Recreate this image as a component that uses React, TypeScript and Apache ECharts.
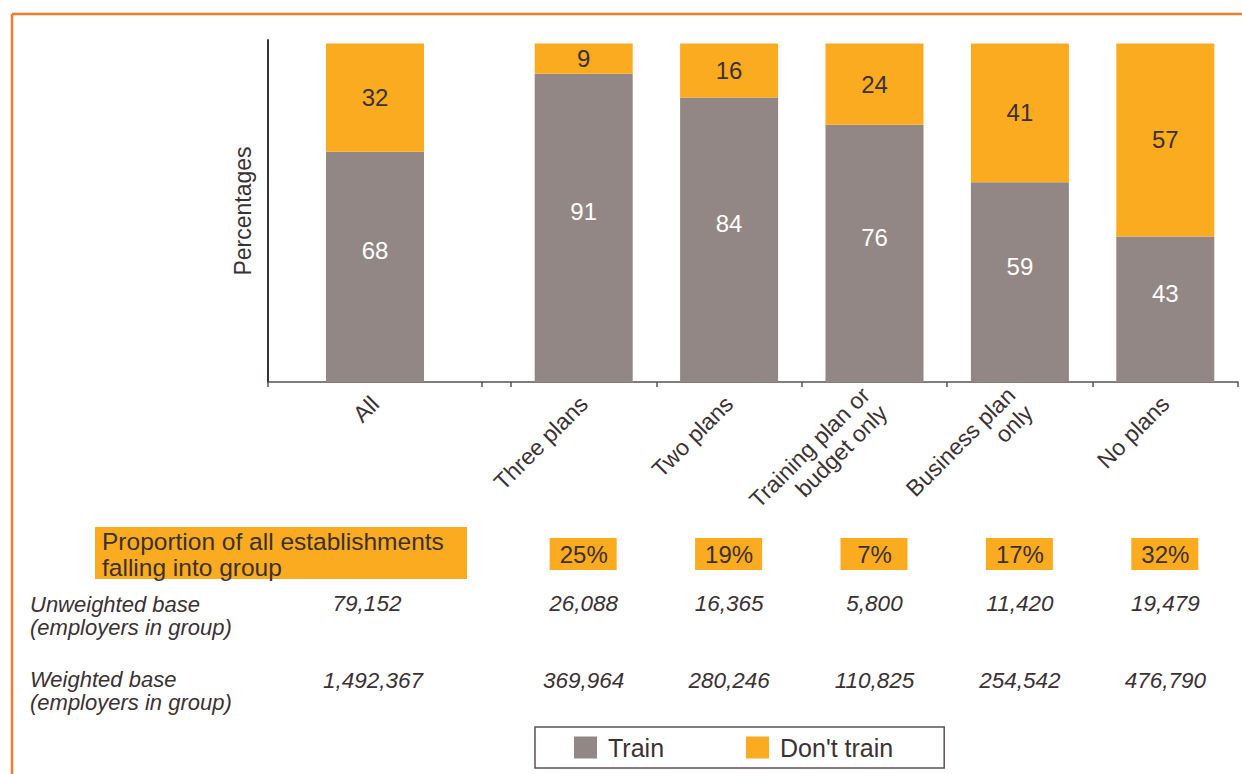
import React, { useEffect, useRef } from "react";
import * as echarts from "echarts";

const allCategory = ["All"];
const groupCategories = [
  "Three plans",
  "Two plans",
  "Training plan or\nbudget only",
  "Business plan\nonly",
  "No plans",
];
const trainAll = [68];
const dontTrainAll = [32];
const trainGroups = [91, 84, 76, 59, 43];
const dontTrainGroups = [9, 16, 24, 41, 57];
const proportionGroups = ["25%", "19%", "7%", "17%", "32%"];
const unweightedAll = "79,152";
const unweightedGroups = ["26,088", "16,365", "5,800", "11,420", "19,479"];
const weightedAll = "1,492,367";
const weightedGroups = ["369,964", "280,246", "110,825", "254,542", "476,790"];
const proportionTitle = "Proportion of all establishments\nfalling into group";
const unweightedTitle = "Unweighted base\n(employers in group)";
const weightedTitle = "Weighted base\n(employers in group)";

export default function App() {
  const ref = useRef<HTMLDivElement>(null);

  useEffect(() => {
    const el = ref.current!;
    const chart = echarts.init(el, null, { renderer: "svg" });
    const FONT = "'Liberation Sans', Arial, Helvetica, sans-serif";
    const DARK = "#3b3133";
    const AXIS = "#5b5052";
    const GRAY = "#928784";
    const ORANGE = "#FBAB1F";
    const BORDER = "#F47B2E";
    const YMAX = 101;
    const BAR_W = 98;

    const trainLabel = {
      show: true,
      position: "inside",
      color: "#ffffff",
      fontSize: 24,
      fontFamily: FONT,
      offset: [0, -16],
    };
    const dontLabel = {
      show: true,
      position: "inside",
      color: DARK,
      fontSize: 24,
      fontFamily: FONT,
    };
    const xAxisCommon = {
      type: "category",
      axisLine: { lineStyle: { color: AXIS, width: 1.5 } },
      axisTick: { show: true, length: 5, lineStyle: { color: AXIS, width: 1.5 } },
      axisLabel: {
        rotate: 45,
        margin: 18,
        fontSize: 23,
        lineHeight: 25,
        color: DARK,
        fontFamily: FONT,
        interval: 0,
      },
    };

    const option: any = {
      animation: false,
      backgroundColor: "#ffffff",
      textStyle: { fontFamily: FONT },
      grid: [
        { left: 268, top: 40, width: 214, height: 342 },
        { left: 511, top: 40, width: 727, height: 342 },
      ],
      xAxis: [
        { ...xAxisCommon, gridIndex: 0, data: allCategory },
        { ...xAxisCommon, gridIndex: 1, data: groupCategories },
      ],
      yAxis: [
        {
          type: "value",
          gridIndex: 0,
          min: 0,
          max: YMAX,
          axisLine: { show: true, lineStyle: { color: DARK, width: 2 } },
          axisTick: { show: false },
          axisLabel: { show: false },
          splitLine: { show: false },
          name: "Percentages",
          nameLocation: "middle",
          nameGap: 14,
          nameTextStyle: { fontSize: 23, color: DARK, fontFamily: FONT },
        },
        {
          type: "value",
          gridIndex: 1,
          min: 0,
          max: YMAX,
          show: false,
          splitLine: { show: false },
        },
      ],
      legend: {
        left: 535,
        top: 727,
        data: ["Train", "Don't train"],
        icon: "rect",
        itemWidth: 23,
        itemHeight: 22,
        itemGap: 82,
        padding: [8, 51, 8, 39],
        borderColor: AXIS,
        borderWidth: 1.5,
        textStyle: { fontSize: 25, color: DARK, fontFamily: FONT, padding: [0, 0, 0, 6] },
      },
      series: [
        {
          name: "Train",
          type: "bar",
          xAxisIndex: 0,
          yAxisIndex: 0,
          stack: "all",
          data: trainAll,
          barWidth: BAR_W,
          itemStyle: { color: GRAY },
          label: trainLabel,
        },
        {
          name: "Don't train",
          type: "bar",
          xAxisIndex: 0,
          yAxisIndex: 0,
          stack: "all",
          data: dontTrainAll,
          barWidth: BAR_W,
          itemStyle: { color: ORANGE },
          label: dontLabel,
        },
        {
          name: "Train",
          type: "bar",
          xAxisIndex: 1,
          yAxisIndex: 1,
          stack: "groups",
          data: trainGroups,
          barWidth: BAR_W,
          itemStyle: { color: GRAY },
          label: trainLabel,
        },
        {
          name: "Don't train",
          type: "bar",
          xAxisIndex: 1,
          yAxisIndex: 1,
          stack: "groups",
          data: dontTrainGroups,
          barWidth: BAR_W,
          itemStyle: { color: ORANGE },
          label: dontLabel,
        },
      ],
    };
    chart.setOption(option);

    const xAll = chart.convertToPixel({ xAxisIndex: 0 }, allCategory[0]) as number;
    const xs = groupCategories.map(
      (c) => chart.convertToPixel({ xAxisIndex: 1 }, c) as number
    );
    const yBase = chart.convertToPixel({ yAxisIndex: 0 }, 0) as number;

    const graphics: any[] = [
      { type: "line", shape: { x1: 12, y1: 14, x2: 1242, y2: 14 }, style: { stroke: BORDER, lineWidth: 2.5 } },
      { type: "line", shape: { x1: 12, y1: 14, x2: 12, y2: 774 }, style: { stroke: BORDER, lineWidth: 2.5 } },
      { type: "line", shape: { x1: 482, y1: yBase, x2: 511, y2: yBase }, style: { stroke: AXIS, lineWidth: 1.5 } },
      { type: "rect", shape: { x: 95, y: 527, width: 372, height: 52 }, style: { fill: ORANGE } },
      {
        type: "text",
        x: 102,
        y: 528,
        style: { text: proportionTitle, fontSize: 24.5, lineHeight: 26, fill: DARK, fontFamily: FONT },
      },
      {
        type: "text",
        x: 30,
        y: 593,
        style: { text: unweightedTitle, fontSize: 22, lineHeight: 23, fontStyle: "italic", fill: DARK, fontFamily: FONT },
      },
      {
        type: "text",
        x: 30,
        y: 668,
        style: { text: weightedTitle, fontSize: 22, lineHeight: 23, fontStyle: "italic", fill: DARK, fontFamily: FONT },
      },
    ];
    const valueText = (x: number, y: number, t: string) => ({
      type: "text",
      x,
      y,
      style: { text: t, fontSize: 22.5, fontStyle: "italic", fill: DARK, fontFamily: FONT, align: "center", verticalAlign: "middle" },
    });
    graphics.push(valueText(xAll - 8, 603, unweightedAll));
    graphics.push(valueText(xAll - 2, 680, weightedAll));
    xs.forEach((x, i) => {
      graphics.push({ type: "rect", shape: { x: x - 34, y: 538, width: 67, height: 32 }, style: { fill: ORANGE } });
      graphics.push({
        type: "text",
        x,
        y: 554,
        style: { text: proportionGroups[i], fontSize: 24, fill: DARK, fontFamily: FONT, align: "center", verticalAlign: "middle" },
      });
      graphics.push(valueText(x, 603, unweightedGroups[i]));
      graphics.push(valueText(x, 680, weightedGroups[i]));
    });
    chart.setOption({ graphic: graphics });

    return () => chart.dispose();
  }, []);

  return (
    <div
      ref={ref}
      style={{ position: "fixed", left: 0, top: 0, width: 1242, height: 774, background: "#fff" }}
    />
  );
}
